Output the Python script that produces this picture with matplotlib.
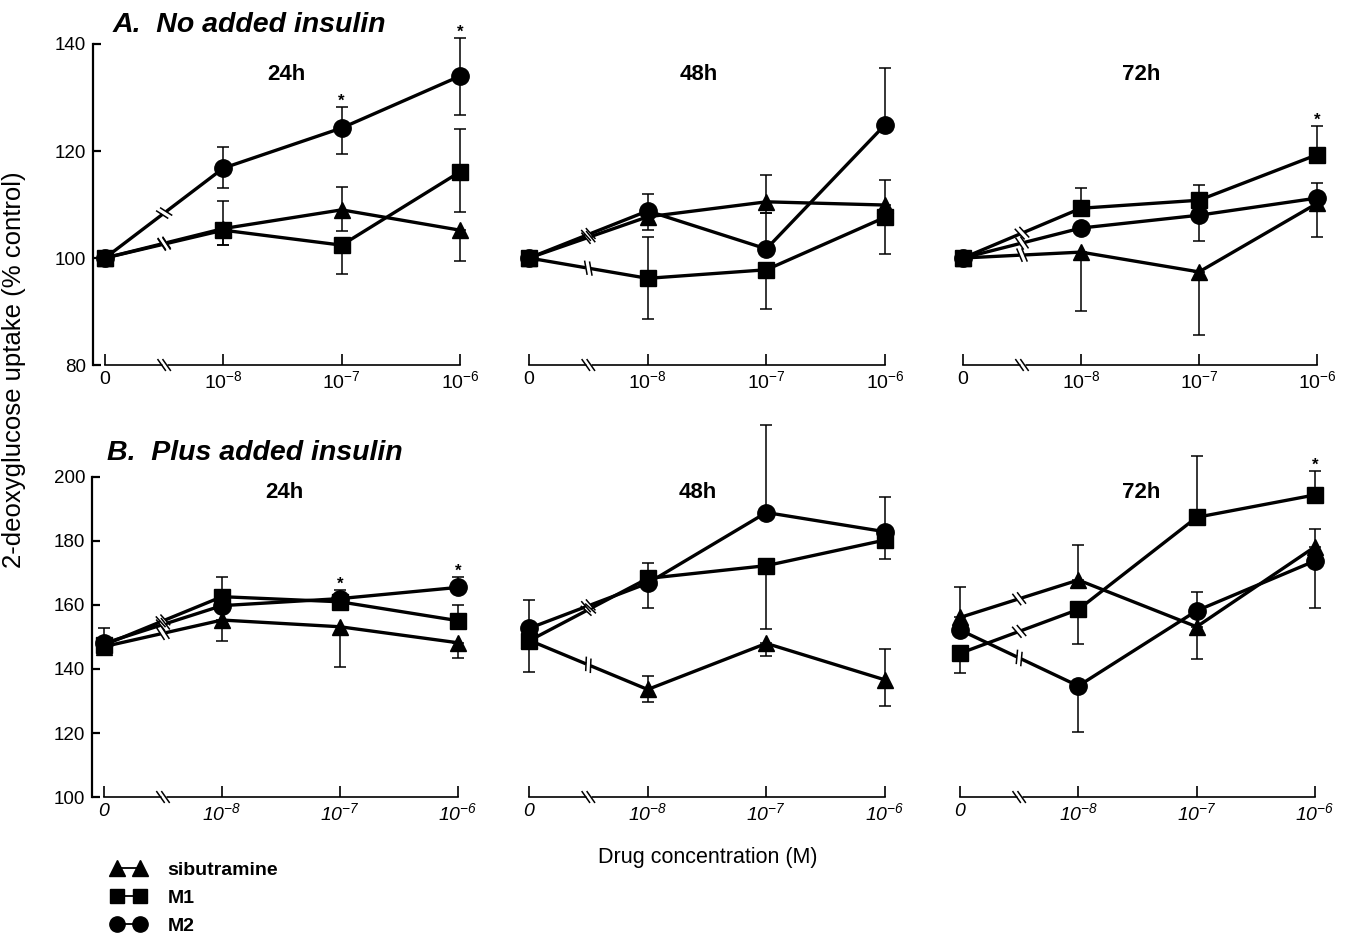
import numpy as np
import matplotlib.pyplot as plt
from matplotlib.lines import Line2D

plt.rcParams['font.family'] = ['Liberation Sans', 'DejaVu Sans']
plt.rcParams['mathtext.fontset'] = 'custom'
plt.rcParams['mathtext.rm'] = 'Liberation Sans'
plt.rcParams['mathtext.sf'] = 'Liberation Sans:italic'
plt.rcParams['mathtext.it'] = 'Liberation Sans:italic'
plt.rcParams['mathtext.bf'] = 'Liberation Sans:bold'

# ---------------------------------------------------------------------------
# Data (% of control); rows are 24h, 48h, 72h
# ---------------------------------------------------------------------------
times = ['24h', '48h', '72h']
conc = [0, 1, 2, 3]                      # 0, 1e-8, 1e-7, 1e-6 (broken axis)
conc_exp = ['-8', '-7', '-6']

# A. No added insulin
a_sib    = [[100, 105.5, 109.0, 105.2], [100, 107.7, 110.5, 109.9], [100, 101.1, 97.4, 110.2]]
a_sib_lo = [[0, 3.0, 3.9, 5.7],        [0, 2.5, 2.1, 0],          [0, 11.0, 11.8, 6.3]]
a_sib_hi = [[0, 0, 4.2, 0],            [0, 0, 5.0, 4.7],          [0, 0, 0, 0]]
a_m1     = [[100, 105.2, 102.4, 116.1], [100, 96.2, 97.8, 107.6], [100, 109.3, 110.8, 119.3]]
a_m1_lo  = [[0, 2.8, 5.4, 7.5],        [0, 7.6, 7.4, 6.9],        [0, 0, 0, 0]]
a_m1_hi  = [[0, 5.5, 0, 8.0],          [0, 7.7, 0, 0],            [0, 3.8, 2.8, 5.4]]
a_m2     = [[100, 116.8, 124.3, 134.0], [100, 108.8, 101.7, 124.9], [100, 105.6, 108.0, 111.2]]
a_m2_lo  = [[0, 3.8, 4.9, 7.3],        [0, 0, 0, 0],              [0, 0, 4.8, 0]]
a_m2_hi  = [[0, 3.9, 3.9, 7.1],        [0, 3.2, 6.7, 10.7],       [0, 0, 0, 2.8]]
a_stars  = [(0, 2, 'm2'), (0, 3, 'm2'), (2, 3, 'm1')]

# B. Plus added insulin
b_sib    = [[147.0, 155.3, 153.2, 148.2], [149.0, 133.6, 148.0, 136.6], [156.1, 167.8, 153.2, 178.2]]
b_sib_lo = [[0, 6.6, 12.5, 4.9],         [0, 3.8, 3.9, 8.2],           [0, 0, 10.2, 0]]
b_sib_hi = [[0, 0, 0, 0],                [0, 4.2, 0, 9.5],             [9.6, 11.1, 0, 5.4]]
b_m1     = [[147.5, 162.6, 161.0, 155.1], [148.8, 168.3, 172.3, 180.3], [144.9, 158.6, 187.4, 194.4]]
b_m1_lo  = [[0, 0, 0, 0],                [9.6, 0, 19.9, 6.0],          [6.0, 10.8, 0, 0]]
b_m1_hi  = [[5.4, 6.0, 3.7, 4.9],        [0, 4.9, 0, 0],               [0, 0, 19.3, 7.5]]
b_m2     = [[148.0, 159.8, 162.0, 165.5], [152.7, 166.8, 188.9, 182.9], [152.2, 134.7, 158.2, 173.8]]
b_m2_lo  = [[0, 0, 0, 0],                [0, 7.8, 0, 0],               [0, 14.5, 0, 14.8]]
b_m2_hi  = [[0, 0, 0, 3.3],              [8.9, 0, 27.4, 10.7],         [0, 0, 6.0, 0]]
b_stars  = [(0, 2, 'm1'), (0, 3, 'm2'), (2, 3, 'm1')]

series_names = ['sibutramine', 'M1', 'M2']

# ---------------------------------------------------------------------------
W, H = 1348, 934
fig = plt.figure(figsize=(W / 100, H / 100), dpi=100)

styles = {'sib': dict(marker='^', ms=12),
          'm1': dict(marker='s', ms=11),
          'm2': dict(marker='o', ms=12.5)}


def px_axes(left, top, right, bottom):
    return fig.add_axes([left / W, 1 - bottom / H, (right - left) / W, (bottom - top) / H])


def draw_break(ax, xa, ya, xb, yb, rel_angle=-70, lw_gap=4.5, lw=1.1):
    # "//" break mark drawn across a segment, in pixel space
    t = ax.transData
    pa, pb = t.transform([(xa, ya), (xb, yb)])
    m = (pa + pb) / 2
    u = (pb - pa) / np.hypot(*(pb - pa))
    ang = np.arctan2(u[1], u[0]) + np.radians(rel_angle)
    s = np.array([np.cos(ang), np.sin(ang)])
    inv = t.inverted()
    gap = 2.5
    seg = inv.transform([m - gap * u, m + gap * u])
    ax.plot(seg[:, 0], seg[:, 1], color='white', lw=lw_gap, solid_capstyle='butt',
            zorder=6, clip_on=False)
    for c in (m - gap * u, m + gap * u):
        ends = inv.transform([c - 6.5 * s, c + 6.5 * s])
        ax.plot(ends[:, 0], ends[:, 1], color='black', lw=lw, zorder=7, clip_on=False)


def make_panel(ax, data, ylim, ybounds, yticks, show_y, italic):
    ax.set_xlim(-0.1, 3.1)
    ax.set_ylim(*ylim)
    for key, (v, lo, hi) in data.items():
        ax.errorbar(conc, v, yerr=[lo, hi], fmt='none', ecolor='black',
                    elinewidth=1.1, capsize=4, capthick=1.1, zorder=2, clip_on=False)
    for key, (v, lo, hi) in data.items():
        ax.plot(conc, v, color='black', lw=2.4, mfc='black', mec='black',
                zorder=3, clip_on=False, **styles[key])
    for key, (v, lo, hi) in data.items():
        draw_break(ax, conc[0], v[0], conc[1], v[1])

    for side in ['top', 'right']:
        ax.spines[side].set_visible(False)
    ax.spines['bottom'].set_bounds(0, 3)
    ax.spines['bottom'].set_linewidth(1.2)
    draw_break(ax, 0, ylim[0], 1, ylim[0], rel_angle=-55, lw_gap=3.5, lw=1.1)

    ax.set_xticks(conc)
    if italic:
        labels = [r'$\mathsf{0}$'] + [r'$\mathsf{10}^{\mathsf{%s}}$' % e for e in conc_exp]
    else:
        labels = ['0'] + [r'$10^{%s}$' % e for e in conc_exp]
    ax.set_xticklabels(labels, fontsize=14)
    ax.tick_params(axis='x', direction='in', length=8, width=1.2, pad=4)

    if show_y:
        ax.spines['left'].set_bounds(*ybounds)
        ax.spines['left'].set_linewidth(1.6)
        ax.set_yticks(yticks)
        ax.tick_params(axis='y', direction='in', length=6, width=1.6, pad=5, labelsize=13.5)
    else:
        ax.spines['left'].set_visible(False)
        ax.set_yticks([])


def star(ax, xi, y):
    ax.annotate('*', (xi, y), xytext=(0, 1), textcoords='offset points',
                ha='center', va='baseline', fontsize=12, fontweight='bold')


# pixel geometry of each panel: data x=0 and x=3 columns
top_x0 = [105, 529, 963]
top_x3 = [460, 885, 1317]
bot_x0 = [104, 529, 960]
bot_x3 = [458, 885, 1315]

rows = [
    dict(sib=(a_sib, a_sib_lo, a_sib_hi), m1=(a_m1, a_m1_lo, a_m1_hi), m2=(a_m2, a_m2_lo, a_m2_hi),
         stars=a_stars, ylim=(80, 146), ybounds=(80, 140), yticks=[80, 100, 120, 140],
         ybase=365, ppu=5.35, x0=top_x0, x3=top_x3, italic=False),
    dict(sib=(b_sib, b_sib_lo, b_sib_hi), m1=(b_m1, b_m1_lo, b_m1_hi), m2=(b_m2, b_m2_lo, b_m2_hi),
         stars=b_stars, ylim=(100, 222), ybounds=(100, 200), yticks=[100, 120, 140, 160, 180, 200],
         ybase=797, ppu=3.2, x0=bot_x0, x3=bot_x3, italic=True),
]

for r in rows:
    top_px = r['ybase'] - (r['ylim'][1] - r['ylim'][0]) * r['ppu']
    for j in range(3):
        step = (r['x3'][j] - r['x0'][j]) / 3
        ax = px_axes(r['x0'][j] - 0.1 * step, top_px, r['x3'][j] + 0.1 * step, r['ybase'])
        data = {k: (r[k][0][j], r[k][1][j], r[k][2][j]) for k in ['sib', 'm1', 'm2']}
        make_panel(ax, data, r['ylim'], r['ybounds'], r['yticks'], j == 0, r['italic'])
        for (tj, ci, key) in r['stars']:
            if tj == j:
                star(ax, ci, r[key][0][j][ci] + r[key][2][j][ci])

# ---------------------------------------------------------------------------
# Text
# ---------------------------------------------------------------------------
def ftext(x, y, s, **kw):
    fig.text(x / W, 1 - y / H, s, **kw)


ftext(113, 25, 'A.  No added insulin', fontsize=20.5, fontweight='bold', style='italic',
      ha='left', va='center')
ftext(107, 453, 'B.  Plus added insulin', fontsize=20.5, fontweight='bold', style='italic',
      ha='left', va='center')
for cx, t in zip([286, 699, 1141], times):
    ftext(cx, 74, t, fontsize=16, fontweight='bold', ha='center', va='center')
for cx, t in zip([284, 698, 1141], times):
    ftext(cx, 492, t, fontsize=16, fontweight='bold', ha='center', va='center')

ftext(14, 370, '2-deoxyglucose uptake (% control)', fontsize=18.5, rotation=90,
      ha='center', va='center')
ftext(708, 857, 'Drug concentration (M)', fontsize=15.5, ha='center', va='center')

# legend: marker-line-marker
handles = [Line2D([], [], color='black', lw=1.3, marker='^', ms=11),
           Line2D([], [], color='black', lw=1.3, marker='s', ms=10.5),
           Line2D([], [], color='black', lw=1.3, marker='o', ms=11)]
fig.legend(handles, series_names, loc='upper left', bbox_to_anchor=(111 / W, 1 - 861 / H),
           frameon=False, numpoints=2, handlelength=1.8, handletextpad=1.1,
           borderpad=0, borderaxespad=0, labelspacing=0.55,
           prop={'size': 14, 'weight': 'bold'})

fig.savefig('out.png', dpi=100)
